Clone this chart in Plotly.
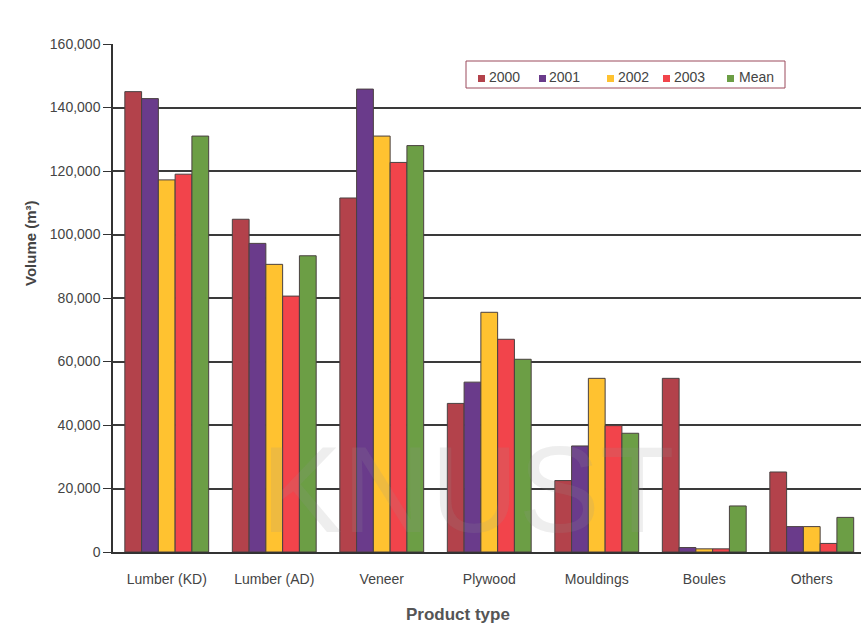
import plotly.graph_objects as go

categories = ["Lumber (KD)", "Lumber (AD)", "Veneer", "Plywood", "Mouldings", "Boules", "Others"]
series_names = ["2000", "2001", "2002", "2003", "Mean"]
v2000 = [145000, 104800, 111500, 46800, 22500, 54700, 25200]
v2001 = [142800, 97200, 145800, 53500, 33400, 1400, 8000]
v2002 = [117200, 90600, 131000, 75500, 54700, 1000, 8000]
v2003 = [119000, 80600, 122700, 67000, 39800, 1000, 2700]
vmean = [131000, 93300, 128000, 60700, 37400, 14500, 10900]
y_ticks = [0, 20000, 40000, 60000, 80000, 100000, 120000, 140000, 160000]

values = [v2000, v2001, v2002, v2003, vmean]
colors = ["#B3424B", "#6A3B8B", "#FFC230", "#F2444B", "#6C9E45"]

W, H = 861, 630
L, R, T, B = 113, 861, 44, 552


def px(xp):
    return (xp - L) / (R - L)


def py(yp):
    return (B - yp) / (B - T)


fig = go.Figure()
for name, vals, col in zip(series_names, values, colors):
    fig.add_trace(go.Bar(
        x=categories, y=vals, name=name,
        marker=dict(color=col, line=dict(color="#4a4040", width=1)),
        showlegend=False,
    ))

font_family = "Liberation Sans, Arial, sans-serif"

# manual legend
shapes = [dict(type="rect", xref="paper", yref="paper",
               x0=px(466), x1=px(785), y0=py(88), y1=py(61),
               line=dict(color="#9b4a5c", width=1), fillcolor="white", layer="above")]
annotations = []
mark_x = [478, 539, 607, 663, 727]
text_x = [487, 547, 616, 672, 737]
for name, col, mx, tx in zip(series_names, colors, mark_x, text_x):
    shapes.append(dict(type="rect", xref="paper", yref="paper",
                       x0=px(mx), x1=px(mx + 7), y0=py(82), y1=py(75),
                       line=dict(color=col, width=0), fillcolor=col, layer="above"))
    annotations.append(dict(text=name, xref="paper", yref="paper",
                            x=px(tx), y=py(77), xanchor="left", yanchor="middle",
                            showarrow=False, font=dict(size=14, color="#444", family=font_family)))

annotations.append(dict(text="<b>Volume (m³)</b>", xref="paper", yref="paper",
                        x=px(31), y=py(243), textangle=-90, showarrow=False,
                        xanchor="center", yanchor="middle",
                        font=dict(size=15, color="#444", family=font_family)))
annotations.append(dict(text="<b>Product type</b>", xref="paper", yref="paper",
                        x=px(458), y=py(614), showarrow=False,
                        xanchor="center", yanchor="middle",
                        font=dict(size=17, color="#555", family=font_family)))
# faint scan watermark
annotations.append(dict(text="KNUST", xref="paper", yref="paper",
                        x=px(467), y=py(490), showarrow=False,
                        xanchor="center", yanchor="middle",
                        font=dict(size=122, color="rgba(150,150,150,0.16)",
                                  family=font_family)))

fig.update_layout(
    width=W, height=H,
    margin=dict(l=L, r=W - R, t=T, b=H - B, pad=0),
    paper_bgcolor="white", plot_bgcolor="white",
    barmode="group", bargap=0.22, bargroupgap=0,
    showlegend=False,
    shapes=shapes, annotations=annotations,
    font=dict(family=font_family, color="#444"),
)
fig.update_xaxes(
    range=[-0.5, 6.458], showgrid=False, showline=True, linecolor="#333", linewidth=1.5,
    ticks="", tickfont=dict(size=14, color="#444"), ticklabelstandoff=13,
)
fig.update_yaxes(
    range=[0, 160000], tickvals=y_ticks, tickformat=",",
    showgrid=True, gridcolor="#3a3a3a", gridwidth=1.5,
    showline=True, linecolor="#333", linewidth=1.5,
    ticks="outside", ticklen=8, tickcolor="#333", tickwidth=1.2,
    tickfont=dict(size=14, color="#444"), zeroline=False,
)

fig.write_html("out.html")
